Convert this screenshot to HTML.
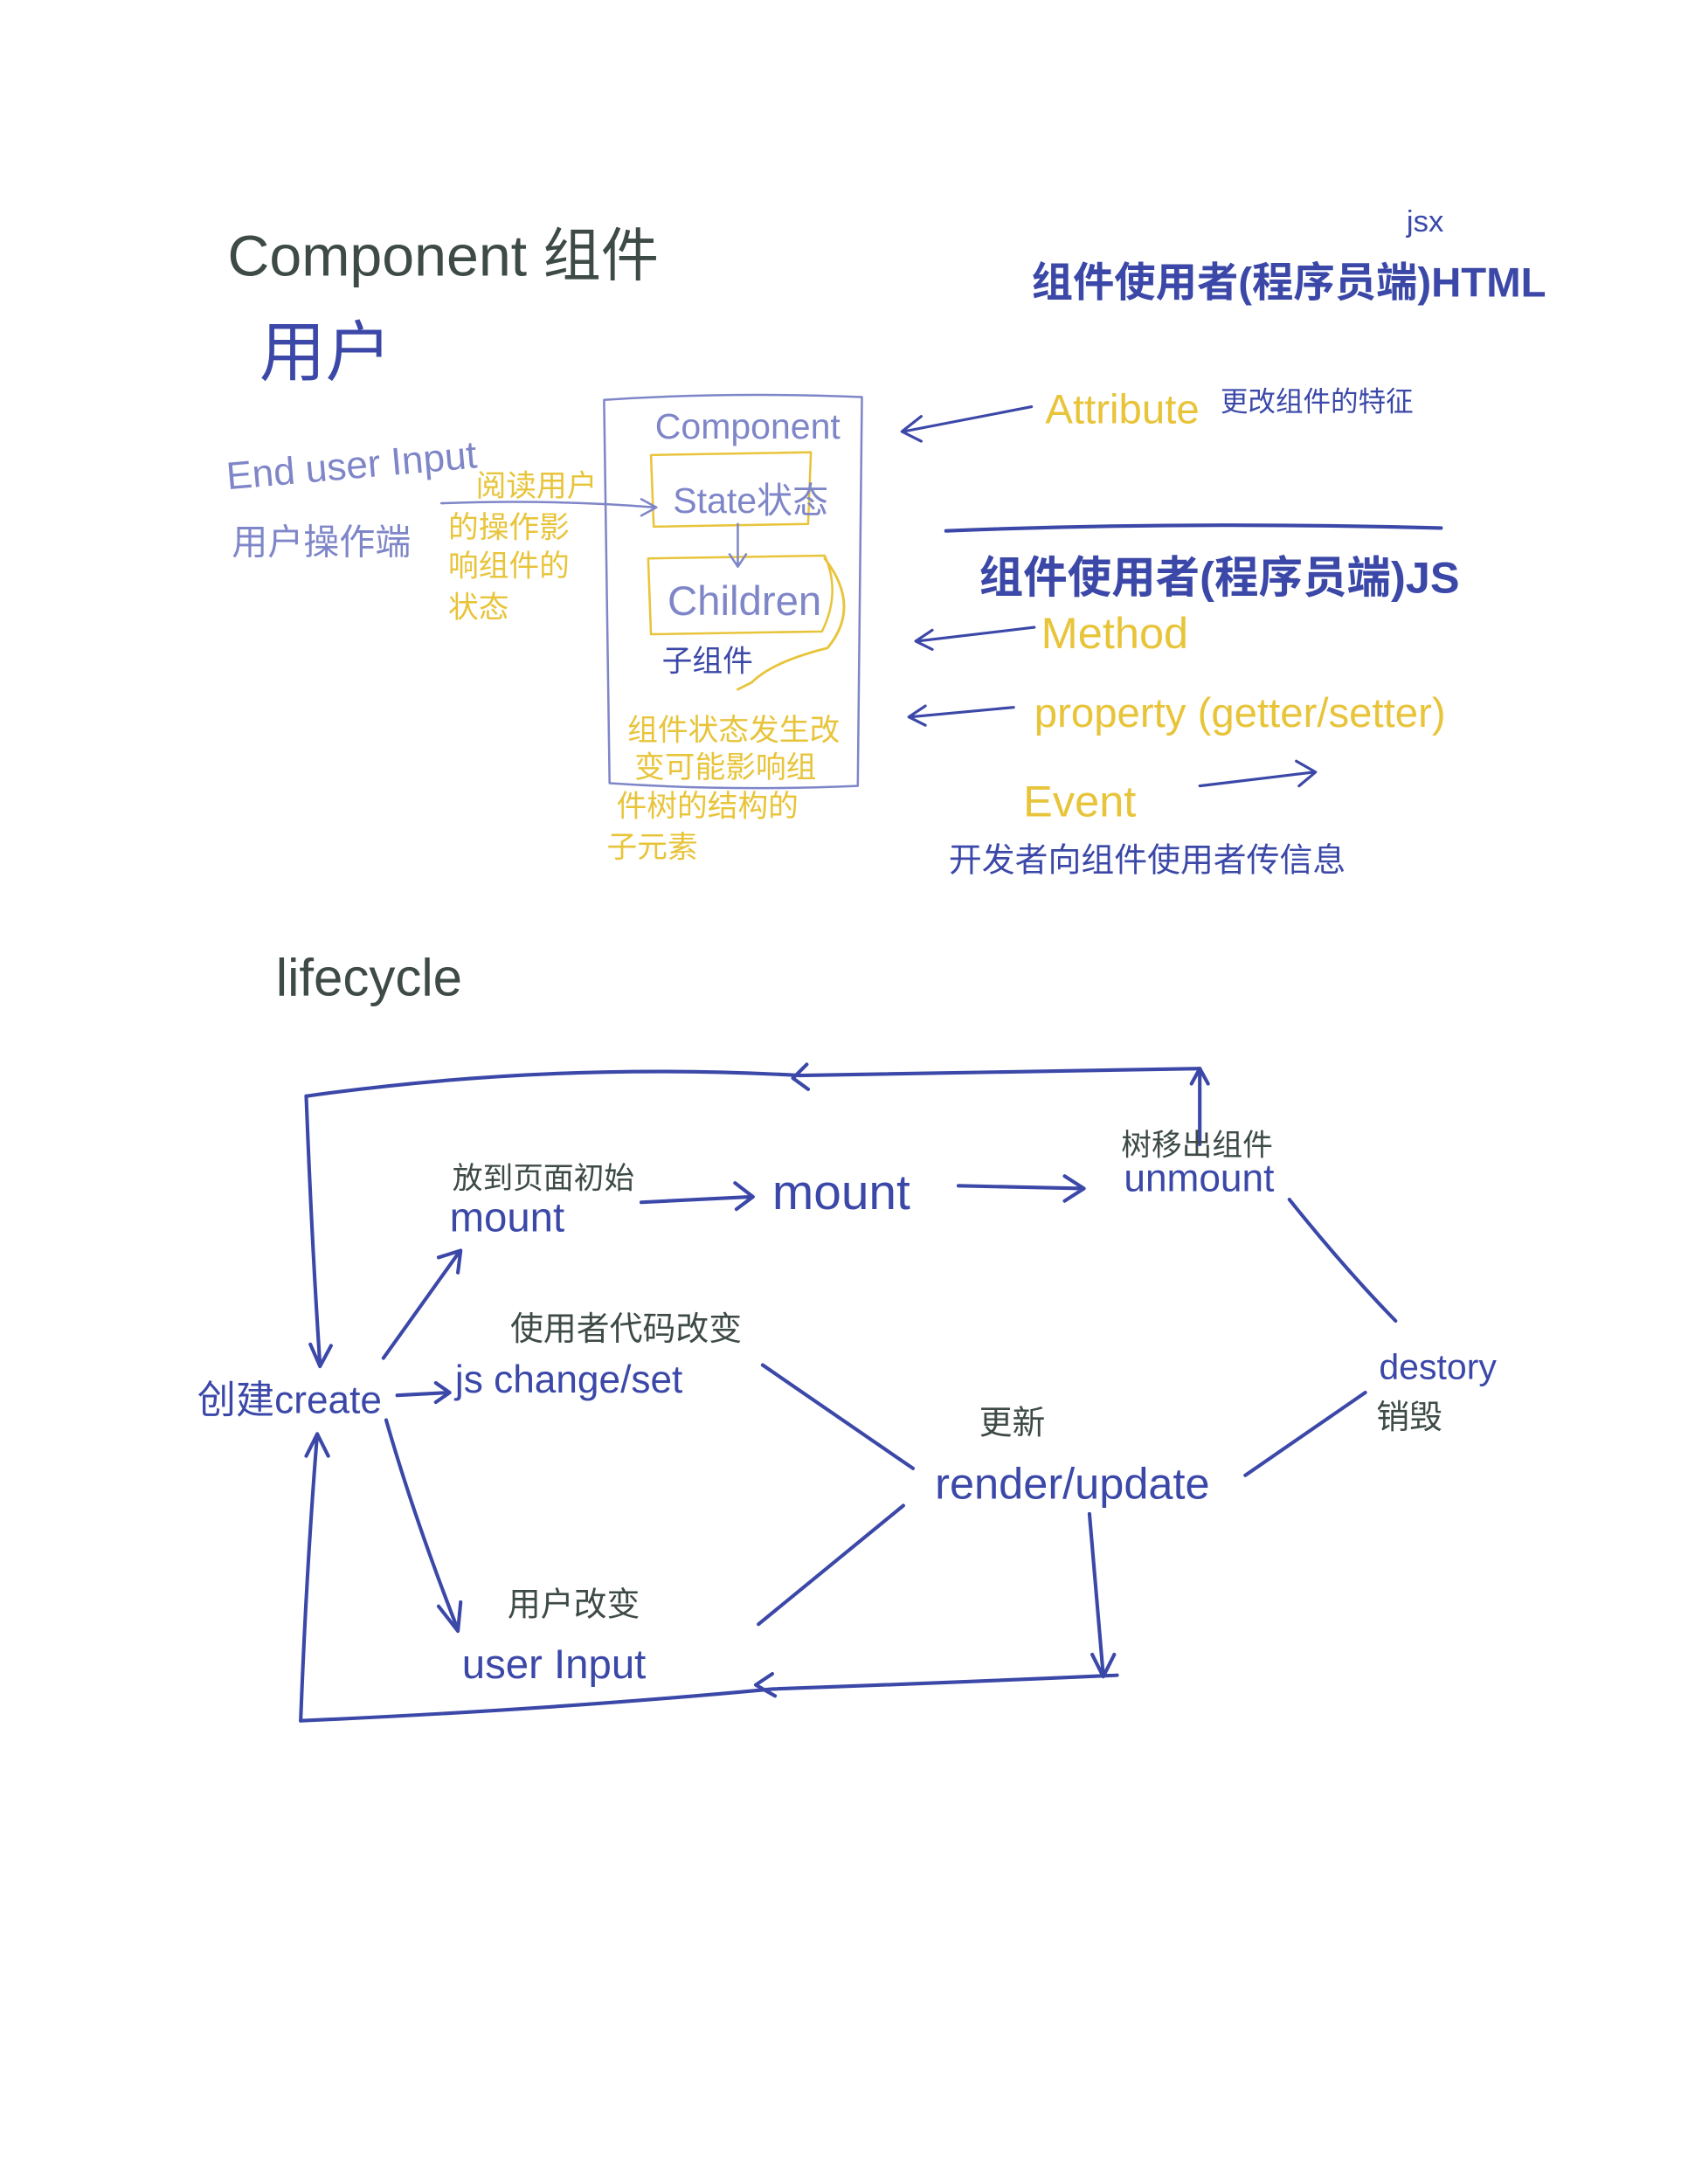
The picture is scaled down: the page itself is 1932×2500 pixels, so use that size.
<!DOCTYPE html>
<html><head><meta charset="utf-8"><style>
html,body{margin:0;padding:0;background:#fff;}
svg{display:block;}
text{font-family:"Liberation Sans","Noto Sans CJK SC",sans-serif;}
</style></head><body>
<svg width="1932" height="2500" viewBox="0 0 1224 1584" xmlns="http://www.w3.org/2000/svg">
<g fill="none" stroke-linecap="round" stroke-linejoin="round">
<path d="M438 290 Q530 284 625 288 L622 570 Q530 574 442 568 Z" stroke="#7f86c8" stroke-width="1.6"/>
<path d="M472 330 L588 328 L586 380 L474 382 Z" stroke="#e8c43a" stroke-width="1.6"/>
<path d="M470 405 L598 403 Q610 430 596 458 L472 460 Z" stroke="#e8c43a" stroke-width="1.6"/>
<path d="M598 405 Q625 440 600 470 Q560 480 545 495 L535 500" stroke="#e8c43a" stroke-width="1.8"/>
<path d="M535 380 L535 410 M529 402 L535 411 L541 402" stroke="#7f86c8" stroke-width="1.6"/>
<path d="M320 365 Q400 362 475 368 M465 362 L476 368 L465 374" stroke="#7f86c8" stroke-width="1.6"/>
<path d="M748 295 L655 313 M668 302 L654 313 L668 320" stroke="#3b48a8" stroke-width="2"/>
<path d="M686 385 Q860 378 1045 383" stroke="#3b48a8" stroke-width="2.6"/>
<path d="M750 455 L665 465 M676 457 L664 465 L676 471" stroke="#3b48a8" stroke-width="2"/>
<path d="M735 513 L660 520 M671 512 L659 520 L671 526" stroke="#3b48a8" stroke-width="2"/>
<path d="M870 570 L953 560 M940 552 L954 560 L942 570" stroke="#3b48a8" stroke-width="2"/>
<g stroke="#3b48a8" stroke-width="2.6">
<path d="M222 795 Q400 770 580 780 Q720 778 870 775"/>
<path d="M585 772 L575 782 L586 790"/>
<path d="M870 830 L870 775 M864 786 L870 775 L876 786"/>
<path d="M222 795 Q226 900 232 990 M225 975 L232 991 L240 976"/>
<path d="M465 872 L545 868 M533 858 L546 868 L534 877"/>
<path d="M695 860 L785 862 M772 853 L786 862 L772 871"/>
<path d="M935 870 Q975 920 1012 958"/>
<path d="M990 1010 L903 1070"/>
<path d="M278 985 L333 908 M318 912 L334 907 L332 923"/>
<path d="M288 1012 L325 1010 M316 1003 L326 1010 L316 1017"/>
<path d="M553 990 L662 1065"/>
<path d="M280 1030 Q300 1100 332 1182 M318 1165 L332 1183 L334 1162"/>
<path d="M550 1178 L655 1092"/>
<path d="M790 1098 L800 1215 M792 1200 L800 1216 L808 1200"/>
<path d="M218 1248 Q400 1240 560 1225 Q700 1220 810 1215"/>
<path d="M560 1214 L548 1222 L562 1230"/>
<path d="M218 1248 Q222 1140 230 1040 M222 1056 L230 1040 L238 1056"/>
</g>
</g>
<text x="165" y="200" font-size="42" fill="#3d4a45">Component 组件</text>
<text x="188" y="272" font-size="48" fill="#3b48a8">用户</text>
<text x="748" y="215" font-size="30" fill="#3b48a8" font-weight="bold">组件使用者(程序员端)HTML</text>
<text x="1020" y="168" font-size="22" fill="#3b48a8">jsx</text>
<text x="475" y="318" font-size="26" fill="#7f86c8">Component</text>
<text x="488" y="372" font-size="26" fill="#7f86c8">State状态</text>
<text x="484" y="446" font-size="30" fill="#7f86c8">Children</text>
<text x="480" y="487" font-size="22" fill="#3b48a8">子组件</text>
<g font-size="22" fill="#e8c43a">
<text x="455" y="537">组件状态发生改</text>
<text x="460" y="564">变可能影响组</text>
<text x="447" y="592">件树的结构的</text>
<text x="440" y="622">子元素</text>
<text x="345" y="360">阅读用户</text>
<text x="325" y="390">的操作影</text>
<text x="325" y="418">响组件的</text>
<text x="325" y="448">状态</text>
</g>
<text x="165" y="355" font-size="28" fill="#7f86c8" transform="rotate(-5 165 355)">End user Input</text>
<text x="168" y="402" font-size="26" fill="#7f86c8">用户操作端</text>
<text x="758" y="307" font-size="30" fill="#e8c43a">Attribute</text>
<text x="885" y="298" font-size="20" fill="#3b48a8">更改组件的特征</text>
<text x="710" y="430" font-size="32" fill="#3b48a8" font-weight="bold">组件使用者(程序员端)JS</text>
<text x="755" y="470" font-size="32" fill="#e8c43a">Method</text>
<text x="750" y="527" font-size="30" fill="#e8c43a">property (getter/setter)</text>
<text x="742" y="592" font-size="32" fill="#e8c43a">Event</text>
<text x="688" y="632" font-size="24" fill="#3b48a8">开发者向组件使用者传信息</text>
<text x="200" y="722" font-size="38" fill="#3d4a45">lifecycle</text>
<text x="328" y="862" font-size="22" fill="#3d4a45">放到页面初始</text>
<text x="326" y="893" font-size="30" fill="#3b48a8">mount</text>
<text x="560" y="877" font-size="36" fill="#3b48a8">mount</text>
<text x="813" y="838" font-size="22" fill="#3d4a45">树移出组件</text>
<text x="815" y="864" font-size="28" fill="#3b48a8">unmount</text>
<text x="1000" y="1000" font-size="26" fill="#3b48a8">destory</text>
<text x="998" y="1036" font-size="24" fill="#3d4a45">销毁</text>
<text x="710" y="1040" font-size="24" fill="#3d4a45">更新</text>
<text x="678" y="1087" font-size="32" fill="#3b48a8">render/update</text>
<text x="143" y="1025" font-size="28" fill="#3b48a8">创建create</text>
<text x="370" y="972" font-size="24" fill="#3d4a45">使用者代码改变</text>
<text x="330" y="1010" font-size="28" fill="#3b48a8">js change/set</text>
<text x="368" y="1172" font-size="24" fill="#3d4a45">用户改变</text>
<text x="335" y="1217" font-size="30" fill="#3b48a8">user Input</text>
</svg>
</body></html>
